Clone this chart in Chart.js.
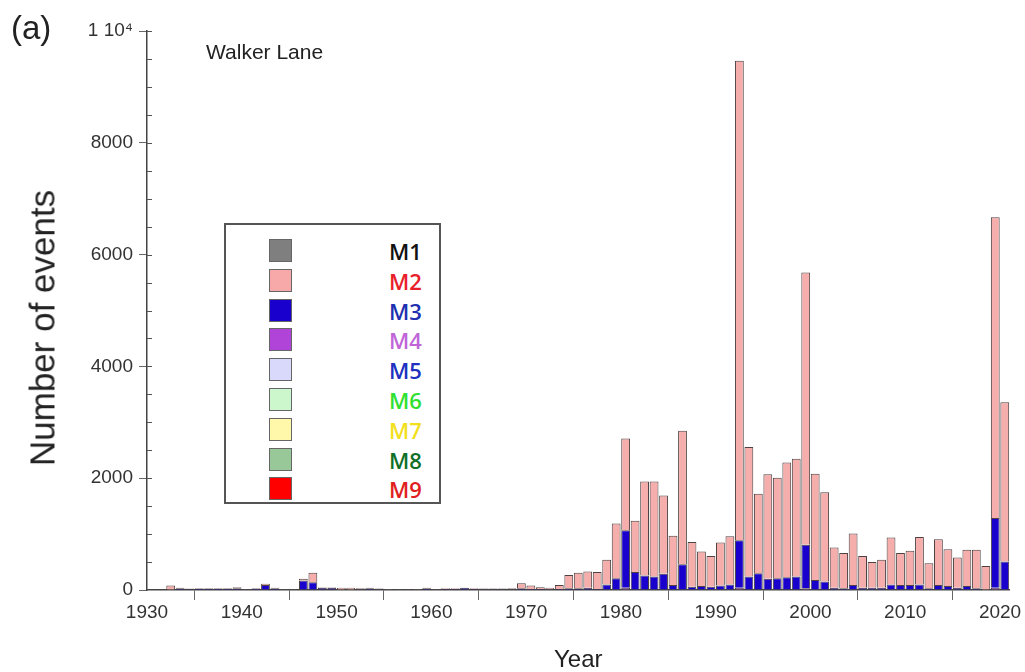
<!DOCTYPE html>
<html>
<head>
<meta charset="utf-8">
<script src="https://cdn.jsdelivr.net/npm/chart.js@4.4.1/dist/chart.umd.min.js"></script>
<style>
  body { margin: 0; background: #fff; }
  #wrap { position: relative; width: 1025px; height: 672px; font-family: "Liberation Sans", Arial, sans-serif; }
  #wrap canvas { position: absolute; left: 0; top: 0; }
  .note { position: absolute; color: #222; white-space: nowrap; line-height: 1; }
  #ytitle { left: 42px; top: 328px; font-size: 35px; transform: translate(-50%, -50%) rotate(-90deg); }
  #legend { position: absolute; left: 224px; top: 223px; width: 217px; height: 281px;
            border: 2px solid #555; background: #fff; box-sizing: border-box; }
  .row { position: absolute; left: 0; height: 26px; width: 100%; }
  .sw { position: absolute; left: 43px; top: 1px; width: 23px; height: 23px; border: 1px solid #666; box-sizing: border-box; }
  .lb { position: absolute; left: 163px; top: 0; font-family: "Open Sans", sans-serif; font-weight: 600; font-size: 22px; line-height: 26px; }
</style>
</head>
<body>
<div id="wrap">
  <canvas id="myChart" width="1025" height="672"></canvas>
  <div class="note" style="left:11px; top:11px; font-size:33px;">(a)</div>
  <div class="note" style="left:206px; top:41px; font-size:21px;">Walker Lane</div>
  <div class="note" id="ytitle">Number of events</div>
  <div id="legend"></div>
</div>
<script>
// yearly bins (bar spans year .. year+1)
const years = [
  1932, 1933, 1934, 1935, 1936, 1937, 1938, 1939, 1940, 1941,
  1942, 1943, 1944, 1945, 1946, 1947, 1948, 1949, 1950, 1951,
  1952, 1953, 1954, 1955, 1956, 1957, 1958, 1959, 1960, 1961,
  1962, 1963, 1964, 1965, 1966, 1967, 1968, 1969, 1970, 1971,
  1972, 1973, 1974, 1975, 1976, 1977, 1978, 1979, 1980, 1981,
  1982, 1983, 1984, 1985, 1986, 1987, 1988, 1989, 1990, 1991,
  1992, 1993, 1994, 1995, 1996, 1997, 1998, 1999, 2000, 2001,
  2002, 2003, 2004, 2005, 2006, 2007, 2008, 2009, 2010, 2011,
  2012, 2013, 2014, 2015, 2016, 2017, 2018, 2019, 2020
];
const m2 = [
  70, 10, 5, 10, 10, 10, 10, 20, 5, 10,
  20, 10, 5, 5, 30, 170, 10, 10, 30, 30,
  15, 10, 10, 10, 5, 5, 10, 10, 5, 10,
  10, 5, 10, 10, 10, 10, 15, 90, 60, 30,
  25, 70, 240, 280, 290, 300, 440, 980, 1640, 920,
  1680, 1700, 1400, 880, 2390, 800, 620, 550, 770, 860,
  8580, 2320, 1420, 1870, 1800, 2050, 2110, 4870, 1900, 1600,
  720, 630, 920, 570, 460, 500, 840, 570, 610, 850,
  450, 820, 660, 540, 650, 690, 420, 5380, 2850
];
const m3 = [
  10, 30, 20, 25, 25, 25, 25, 30, 15, 25,
  90, 30, 10, 10, 170, 140, 40, 40, 10, 10,
  15, 30, 15, 10, 10, 5, 10, 30, 5, 20,
  20, 35, 20, 15, 15, 15, 15, 30, 20, 20,
  15, 20, 30, 30, 40, 20, 100, 210, 1030, 320,
  260, 240, 290, 90, 460, 60, 70, 60, 80, 100,
  850, 240, 300, 200, 210, 230, 240, 780, 180, 150,
  40, 30, 90, 40, 40, 40, 100, 90, 90, 100,
  30, 90, 70, 40, 70, 30, 10, 1250, 510
];
// M4 only shows in a few years
const m4Years = [1980, 1992, 1999, 2019];
const m4 = [40, 40, 30, 40];

const yTicks = [0, 2000, 4000, 6000, 8000, 10000];
const xTicks = [1930, 1940, 1950, 1960, 1970, 1980, 1990, 2000, 2010, 2020];

const legendItems = [
  { name: 'M1', box: '#7f7f7f', text: '#111111' },
  { name: 'M2', box: '#f7a9a9', text: '#e8202a' },
  { name: 'M3', box: '#1a00cc', text: '#2030b0' },
  { name: 'M4', box: '#b044d8', text: '#c064d8' },
  { name: 'M5', box: '#d9d9fb', text: '#2030c0' },
  { name: 'M6', box: '#ccf7cc', text: '#30e030' },
  { name: 'M7', box: '#fff8aa', text: '#f2e020' },
  { name: 'M8', box: '#98c898', text: '#107028' },
  { name: 'M9', box: '#ff0000', text: '#e02020' }
];

// legend box (html)
const leg = document.getElementById('legend');
legendItems.forEach((it, i) => {
  const row = document.createElement('div');
  row.className = 'row';
  row.style.top = (13 + i * 29.8) + 'px';
  row.innerHTML = '<div class="sw" style="background:' + it.box + '"></div>' +
    '<div class="lb" style="color:' + it.text + '">' + it.name + '</div>';
  leg.appendChild(row);
});

const toPoints = (ys, vals) => ys.map((yr, i) => ({ x: yr + 0.5, y: vals[i] }));

// small inward ticks on the y axis every 500
const minorTicks = {
  id: 'minorTicks',
  afterDraw(chart) {
    const ctx = chart.ctx;
    const y = chart.scales.y;
    ctx.save();
    ctx.strokeStyle = '#555';
    ctx.lineWidth = 1;
    for (let v = 500; v <= 10000; v += 500) {
      const py = Math.round(y.getPixelForValue(v)) + 0.5;
      ctx.beginPath();
      ctx.moveTo(y.right, py);
      ctx.lineTo(y.right + 5, py);
      ctx.stroke();
    }
    ctx.restore();
  }
};

const ctx = document.getElementById('myChart');
const barOpts = { borderWidth: 1, borderColor: '#4e4242', barPercentage: 0.93, categoryPercentage: 1 };

new Chart(ctx, { // eslint-disable-line
  type: 'bar',
  data: {
    datasets: [
      Object.assign({ label: 'M4', data: toPoints(m4Years, m4), backgroundColor: '#b044d8' }, barOpts),
      Object.assign({ label: 'M3', data: toPoints(years, m3), backgroundColor: '#1a00cc' }, barOpts),
      Object.assign({ label: 'M2', data: toPoints(years, m2), backgroundColor: '#f5aeac' }, barOpts)
    ]
  },
  options: {
    responsive: false,
    animation: false,
    layout: { padding: { top: 31, right: 15.5, bottom: 0, left: 0 } },
    plugins: { legend: { display: false }, tooltip: { enabled: false } },
    scales: {
      x: {
        type: 'linear',
        stacked: true,
        offset: false,
        min: 1930,
        max: 2021,
        afterFit: (s) => { s.height = 82; },
        afterBuildTicks: (s) => { s.ticks = xTicks.map(v => ({ value: v })); },
        ticks: { color: '#333', font: { family: 'Liberation Sans', size: 19 }, padding: 1, maxRotation: 0, callback: v => String(v) },
        grid: { drawOnChartArea: false, tickLength: 10, color: '#666' },
        border: { color: '#444', width: 1.5 },
        title: { display: true, text: 'Year', color: '#222', font: { family: 'Liberation Sans', size: 24, lineHeight: 1 }, padding: { top: 0, bottom: 0 } }
      },
      y: {
        stacked: true,
        min: 0,
        max: 10000,
        afterFit: (s) => { s.width = 147; },
        afterBuildTicks: (s) => { s.ticks = yTicks.map(v => ({ value: v })); },
        ticks: {
          color: '#333',
          font: { family: 'Liberation Sans', size: 19 },
          padding: 6,
          callback: v => (v === 10000 ? '1 10\u2074' : String(v))
        },
        grid: { drawOnChartArea: false, tickLength: 8, color: '#666' },
        border: { color: '#444', width: 1.5 }
      }
    }
  },
  plugins: [minorTicks]
});
</script>
</body>
</html>
